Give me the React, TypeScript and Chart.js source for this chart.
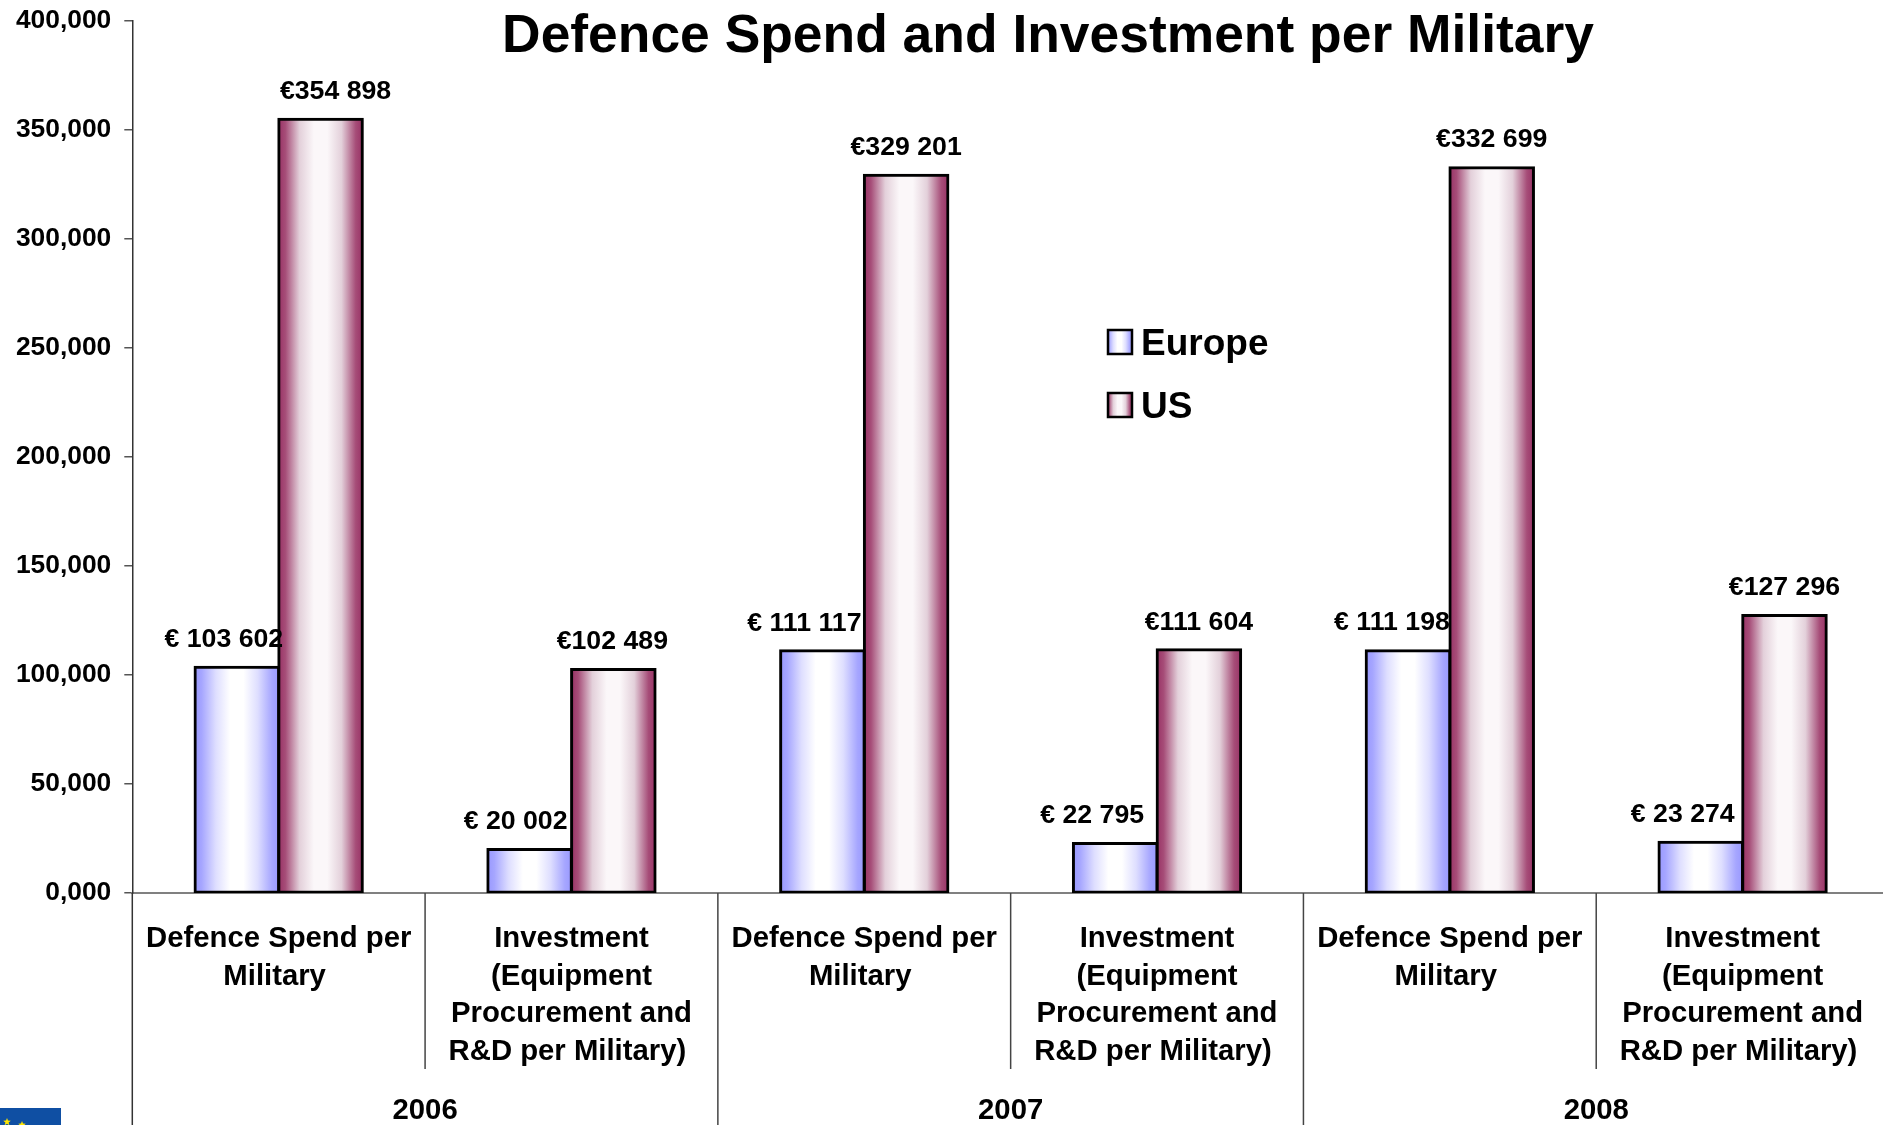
import React, { useEffect, useRef } from "react";
import { Chart, registerables } from "chart.js";

Chart.register(...registerables);

const FONT = '"Liberation Sans", Arial, sans-serif';

const chartTitle = "Defence Spend and Investment per Military";
const defenceLabel = ["Defence Spend per", "Military "];
const investmentLabel = ["Investment", "(Equipment", "Procurement and", "R&D per Military) "];
const categories = [defenceLabel, investmentLabel, defenceLabel, investmentLabel, defenceLabel, investmentLabel];
const years = ["2006", "2007", "2008"];
const europeValues = [103602, 20002, 111117, 22795, 111198, 23274];
const usValues = [354898, 102489, 329201, 111604, 332699, 127296];
const europeLabels = ["€ 103 602", "€ 20 002", "€ 111 117", "€ 22 795", "€ 111 198", "€ 23 274"];
const usLabels = ["€354 898", "€102 489", "€329 201", "€111 604", "€332 699", "€127 296"];
const yTickLabels = ["0,000", "50,000", "100,000", "150,000", "200,000", "250,000", "300,000", "350,000", "400,000"];

const europeNudge = [-13, -14, -18, -23, -16, -18];
const usNudge = [15, -1, 0, 0, 0, 0];

const europeStops: [number, string][] = [
  [0, "#9999ff"], [0.08, "#a6a6ff"], [0.25, "#dedeff"], [0.42, "#ffffff"], [0.58, "#ffffff"], [0.75, "#dedeff"], [0.92, "#a6a6ff"], [1, "#9999ff"],
];
const usStops: [number, string][] = [
  [0, "#993366"], [0.08, "#a64d78"], [0.25, "#e3d0da"], [0.42, "#fbf7f9"], [0.58, "#fbf7f9"], [0.75, "#e3d0da"], [0.92, "#a64d78"], [1, "#993366"],
];

function hGradient(c: CanvasRenderingContext2D, x0: number, x1: number, stops: [number, string][]) {
  const g = c.createLinearGradient(x0, 0, x1, 0);
  stops.forEach(([p, col]) => g.addColorStop(p, col));
  return g;
}

const CAT_PCT = 0.572;

function barFill(stops: [number, string][], side: number) {
  return (ctx: any) => {
    const chart = ctx.chart;
    const xs = chart.scales.x;
    if (!xs || !chart.ctx || ctx.dataIndex === undefined) return stops[0][1];
    const w = (xs.width / categories.length) * CAT_PCT * 0.5;
    const mid = xs.getPixelForValue(ctx.dataIndex);
    if (!Number.isFinite(w) || !Number.isFinite(mid)) return stops[0][1];
    const left = side < 0 ? mid - w : mid;
    return hGradient(chart.ctx, left, left + w, stops);
  };
}

const noPadding = (s: any) => {
  s.paddingTop = 0;
  s.paddingBottom = 0;
  s.paddingLeft = 0;
  s.paddingRight = 0;
};

const overlayPlugin = {
  id: "overlay",
  afterDatasetsDraw(chart: any) {
    const c: CanvasRenderingContext2D = chart.ctx;
    const xs = chart.scales.x;
    const ys = chart.scales.y;
    const catW = xs.width / categories.length;
    const bottom = chart.height;
    const base = ys.getPixelForValue(0);
    c.save();

    // value labels
    c.fillStyle = "#000";
    c.font = `bold 26.7px ${FONT}`;
    c.textAlign = "center";
    c.textBaseline = "middle";
    [
      { labels: europeLabels, nudge: europeNudge },
      { labels: usLabels, nudge: usNudge },
    ].forEach((s, di) => {
      const meta = chart.getDatasetMeta(di);
      meta.data.forEach((bar: any, i: number) => {
        c.fillText(s.labels[i], bar.x + s.nudge[i], bar.y - 27.5);
      });
    });

    // y axis extension below the baseline
    c.strokeStyle = "#333";
    c.lineWidth = 1.5;
    c.beginPath();
    c.moveTo(xs.left, base);
    c.lineTo(xs.left, bottom);
    c.stroke();

    // category separators
    c.strokeStyle = "#444";
    for (let i = 1; i < categories.length; i++) {
      const x = xs.left + catW * i;
      c.beginPath();
      c.moveTo(x, base);
      c.lineTo(x, i % 2 === 0 ? bottom : base + 176);
      c.stroke();
    }

    // year labels
    c.fillStyle = "#000";
    c.font = `bold 29.3px ${FONT}`;
    years.forEach((y, i) => {
      c.fillText(y, xs.left + catW * (2 * i + 1), 1111);
    });

    // title
    c.font = `bold 53.4px ${FONT}`;
    c.fillText(chartTitle, 1048, 37.5);

    // legend
    const entries: [string, [number, string][], number][] = [
      ["Europe", europeStops, 342],
      ["US", usStops, 405],
    ];
    entries.forEach(([name, stops, cy]) => {
      c.fillStyle = hGradient(c, 1107, 1132, stops);
      c.fillRect(1108, cy - 12, 24, 24);
      c.strokeStyle = "#000";
      c.lineWidth = 2.5;
      c.strokeRect(1108, cy - 12, 24, 24);
      c.fillStyle = "#000";
      c.font = `bold 37px ${FONT}`;
      c.textAlign = "left";
      c.fillText(name, 1141, cy + 2.5);
    });

    // flag corner
    c.fillStyle = "#0f4fa3";
    c.fillRect(0, 1108, 61, 17);
    c.fillStyle = "#ffe600";
    [[7, 1122], [22, 1125]].forEach(([sx, sy]) => {
      c.beginPath();
      for (let k = 0; k < 10; k++) {
        const r = k % 2 === 0 ? 4 : 1.7;
        const a = -Math.PI / 2 + (k * Math.PI) / 5;
        c.lineTo(sx + r * Math.cos(a), sy + r * Math.sin(a));
      }
      c.closePath();
      c.fill();
    });
    c.restore();
  },
};

export default function App() {
  const ref = useRef<HTMLCanvasElement>(null);
  useEffect(() => {
    const chart = new Chart(ref.current as HTMLCanvasElement, {
      type: "bar",
      data: {
        labels: categories as any,
        datasets: [
          {
            label: "Europe",
            data: europeValues,
            backgroundColor: barFill(europeStops, -1) as any,
            borderColor: "#000",
            borderWidth: 3,
            borderSkipped: false,
            inflateAmount: 1.4,
            barPercentage: 1,
            categoryPercentage: CAT_PCT,
          },
          {
            label: "US",
            data: usValues,
            backgroundColor: barFill(usStops, 1) as any,
            borderColor: "#000",
            borderWidth: 3,
            borderSkipped: false,
            inflateAmount: 1.4,
            barPercentage: 1,
            categoryPercentage: CAT_PCT,
          },
        ],
      },
      options: {
        responsive: false,
        animation: false,
        devicePixelRatio: 1,
        layout: { padding: { top: 20.8, left: 0, right: 0, bottom: 0 } },
        plugins: { legend: { display: false }, title: { display: false }, tooltip: { enabled: false } },
        scales: {
          x: {
            type: "category",
            afterFit: (s: any) => { s.height = 232; noPadding(s); },
            grid: { display: true, drawOnChartArea: false, drawTicks: false },
            border: { display: true, color: "#808080", width: 2 },
            ticks: {
              autoSkip: false,
              maxRotation: 0,
              minRotation: 0,
              padding: 27.5,
              color: "#000",
              font: { family: FONT, size: 29.3, weight: "bold", lineHeight: 1.277 },
            },
          },
          y: {
            min: 0,
            max: 400000,
            afterFit: (s: any) => { s.width = 132.3; noPadding(s); },
            grid: { drawOnChartArea: false, drawTicks: true, tickLength: 8, color: "#555", lineWidth: 1.5 },
            border: { display: true, color: "#333", width: 1.5 },
            ticks: {
              stepSize: 50000,
              padding: 13,
              color: "#000",
              font: { family: FONT, size: 26.4, weight: "bold" },
              callback: (_v: any, i: number) => yTickLabels[i],
            },
          },
        },
      },
      plugins: [overlayPlugin],
    } as any);
    return () => chart.destroy();
  }, []);
  return (
    <div style={{ position: "fixed", left: 0, top: 0, width: 1883, height: 1125, background: "#fff", overflow: "hidden" }}>
      <canvas ref={ref} width={1889} height={1125} style={{ display: "block" }} />
    </div>
  );
}
